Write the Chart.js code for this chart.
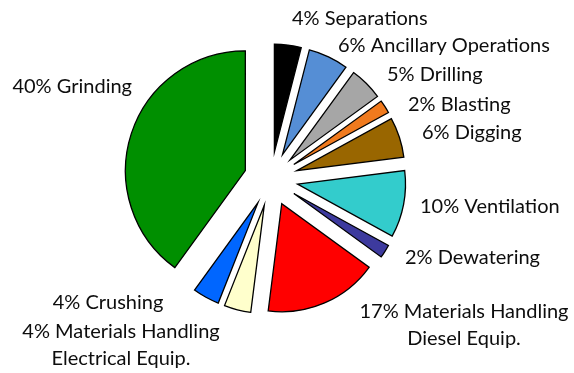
<!DOCTYPE html>
<html>
<head>
<meta charset="utf-8">
<script src="https://cdn.jsdelivr.net/npm/chart.js@4"></script>
<style>
  html, body { margin: 0; padding: 0; background: #fff; }
  #energyChart { display: block; }
</style>
</head>
<body>
<canvas id="energyChart" width="574" height="373"></canvas>
<script>
// Energy use by mining activity (share of total, %)
var categories = [
    'Separations', 'Ancillary Operations', 'Drilling', 'Blasting', 'Digging',
    'Ventilation', 'Dewatering', 'Materials Handling\nDiesel Equip.',
    'Materials Handling\nElectrical Equip.', 'Crushing', 'Grinding'
];
var shares = [4, 6, 5, 2, 6, 10, 2, 17, 4, 4, 40];
var sliceColors = [
    '#000000', '#558ED5', '#A6A6A6', '#F07A1E', '#996600',
    '#33CCCC', '#3D3A9E', '#FF0000', '#FFFFCC', '#0066FF', '#008F00'
];

// label anchors: x, baseline of first line, alignment
var labelLayout = [
    { x: 292, y: 25, align: 'left' },
    { x: 338, y: 52, align: 'left' },
    { x: 387, y: 81, align: 'left' },
    { x: 408, y: 111, align: 'left' },
    { x: 422, y: 139, align: 'left' },
    { x: 420, y: 213, align: 'left' },
    { x: 405, y: 264, align: 'left' },
    { x: 464, y: 318, align: 'center' },
    { x: 121, y: 338, align: 'center' },
    { x: 108, y: 309, align: 'center' },
    { x: 132, y: 93, align: 'right' }
];

var EXPLODE = 27;        // how far each slice is pulled out from the centre
var BIG_SLICE = 10;      // Grinding is drawn a bit larger than the rest
var BIG_SCALE = 1.11;
var LINE_GAP = 27;

// pull every arc out along its bisector, and enlarge the big slice
var explodePlugin = {
    id: 'explode',
    afterDatasetUpdate: function(chart, args) {
        args.meta.data.forEach(function(arc, i) {
            var mid = (arc.startAngle + arc.endAngle) / 2;
            arc.x += Math.cos(mid) * EXPLODE;
            arc.y += Math.sin(mid) * EXPLODE;
            if (i === BIG_SLICE) arc.outerRadius *= BIG_SCALE;
        });
    }
};

var labelPlugin = {
    id: 'sliceLabels',
    afterDraw: function(chart) {
        var ctx = chart.ctx;
        ctx.save();
        ctx.font = '20px Lato, "Open Sans", sans-serif';
        ctx.fillStyle = '#0d0d0d';
        ctx.textBaseline = 'alphabetic';
        categories.forEach(function(name, i) {
            var pos = labelLayout[i];
            var lines = (shares[i] + '% ' + name).split('\n');
            ctx.textAlign = pos.align;
            lines.forEach(function(line, k) {
                ctx.fillText(line, pos.x, pos.y + k * LINE_GAP);
            });
        });
        ctx.restore();
    }
};

document.addEventListener('DOMContentLoaded', function() {
    var ctx = document.getElementById('energyChart');
    new Chart(ctx.getContext('2d'), {
        type: 'pie',
        data: {
            labels: categories,
            datasets: [{
                data: shares,
                backgroundColor: sliceColors,
                borderColor: '#000000',
                borderWidth: 1.3,
                borderJoinStyle: 'miter'
            }]
        },
        options: {
            responsive: false,
            devicePixelRatio: 1,
            animation: false,
            radius: 108,
            layout: { padding: { left: 0, right: 32, top: 0, bottom: 15 } },
            plugins: {
                legend: { display: false },
                tooltip: { enabled: false }
            }
        },
        plugins: [explodePlugin, labelPlugin]
    });
});
</script>
</body>
</html>
